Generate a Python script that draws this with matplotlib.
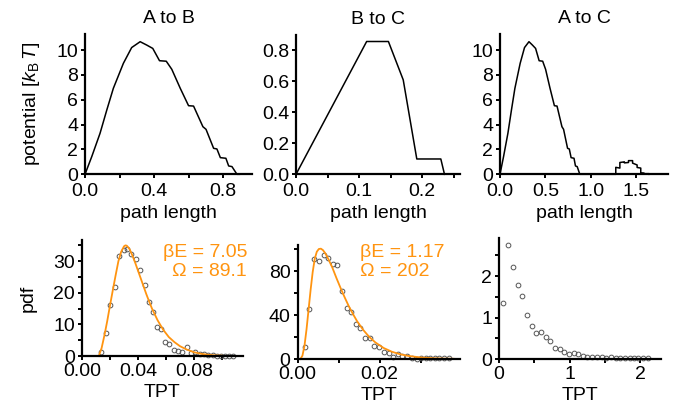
import numpy as np
import matplotlib
matplotlib.use("Agg")
import matplotlib.pyplot as plt
from matplotlib.ticker import FixedLocator, FormatStrFormatter

plt.rcParams['font.family'] = ['Liberation Sans', 'DejaVu Sans']
plt.rcParams['mathtext.fontset'] = 'custom'
plt.rcParams['mathtext.rm'] = 'Liberation Sans'
plt.rcParams['mathtext.it'] = 'Liberation Sans:italic'

#DATA
# potential profiles along path
ab_x = [0, 0.039, 0.087, 0.126, 0.164, 0.222, 0.27, 0.319, 0.357, 0.392, 0.431, 0.47,
        0.502, 0.551, 0.599, 0.628, 0.682, 0.70, 0.744, 0.763, 0.783, 0.815, 0.831, 0.85,
        0.879, 0.893]
ab_y = [0, 1.42, 3.3, 5.17, 6.92, 8.93, 10.2, 10.67, 10.4, 10.13, 9.14, 9.1,
        8.45, 6.92, 5.52, 5.49, 3.83, 3.62, 2.09, 2.04, 1.34, 1.29, 0.67, 0.62,
        0, 0]

bc_x = [0, 0.112, 0.1465, 0.170, 0.1915, 0.2296, 0.2354]
bc_y = [0, 0.858, 0.858, 0.61, 0.099, 0.099, 0]

ac2_x = [1.275, 1.275, 1.32, 1.32, 1.37, 1.37, 1.415, 1.415, 1.46, 1.46, 1.51,
         1.51, 1.55, 1.55, 1.585, 1.585, 1.64, 1.64]
ac2_y = [0, 0.56, 0.5, 0.95, 1.0, 0.92, 0.95, 1.1, 1.1, 0.9, 0.75,
         0.55, 0.5, 0.12, 0.1, 0.05, 0.05, 0]

# transition path time histograms
tab_x = [0.0138, 0.0174, 0.0202, 0.0233, 0.0262, 0.0298, 0.0324, 0.0352, 0.0383, 0.0417,
         0.0448, 0.0476, 0.0507, 0.0536, 0.0565, 0.0595, 0.0621, 0.0655, 0.0686, 0.0717,
         0.075, 0.078, 0.081, 0.0843, 0.0874, 0.090, 0.0933, 0.0962, 0.0993, 0.102,
         0.105, 0.108]
tab_y = [1.37, 7.4, 16.1, 21.9, 31.6, 33.5, 33.9, 32.3, 30.6, 27.2,
         22.5, 17.0, 13.8, 9.3, 8.7, 4.5, 3.7, 1.9, 1.6, 1.4,
         2.7, 1.0, 1.2, 0.5, 0.6, 0.4, 0.2, 0.15, 0.1, 0.05,
         0.05, 0.05]
fab_x = [0.012, 0.014, 0.016, 0.018, 0.020, 0.022, 0.024, 0.026, 0.028, 0.030, 0.031,
         0.032, 0.034, 0.036, 0.038, 0.040, 0.042, 0.044, 0.046, 0.048, 0.050, 0.054,
         0.058, 0.062, 0.066, 0.070, 0.075, 0.080, 0.085, 0.090, 0.095, 0.100]
fab_y = [0, 2.5, 6.5, 11, 16, 20.8, 25.5, 30, 33, 34.7, 35,
         34.9, 33.8, 31.8, 29.5, 27, 24.5, 22, 19.5, 17.2, 15, 11.3,
         8.3, 6.0, 4.4, 3.1, 2.0, 1.2, 0.7, 0.4, 0.2, 0.1]

tbc_x = [0.00175, 0.00288, 0.00394, 0.00516, 0.00638, 0.00744, 0.00858, 0.0097, 0.01085,
         0.012, 0.0131, 0.01427, 0.0153, 0.01646, 0.0176, 0.01874, 0.0199, 0.021, 0.0222,
         0.0233, 0.0244, 0.0255, 0.0266, 0.0278, 0.029, 0.030, 0.0312, 0.0323, 0.0335,
         0.0346, 0.0358, 0.0369]
tbc_y = [10.6, 45.5, 90.6, 89, 94.5, 92.1, 86.4, 85.5, 61.8,
         46.7, 42.4, 31.5, 27.9, 18.8, 19.4, 11.8, 11.2, 6.0, 5.2,
         2.1, 4.2, 3.0, 3.0, 0.6, 0.2, 1.0, 1.0, 0.8, 0.5,
         0.5, 0.5, 0.8]
fbc_x = [0.0007, 0.0012, 0.0017, 0.0022, 0.0027, 0.0032, 0.0037, 0.0042, 0.0047, 0.0052,
         0.0057, 0.0062, 0.0067, 0.0075, 0.0085, 0.0095, 0.0105, 0.0115, 0.0125, 0.0135,
         0.0145, 0.016, 0.0175, 0.019, 0.021, 0.023, 0.025, 0.027, 0.030, 0.033, 0.036, 0.038]
fbc_y = [0, 3, 12, 27, 45, 63, 79, 91, 97.5, 100,
         100.3, 99, 96.5, 91, 83, 73.5, 64.5, 56, 48, 41,
         34.5, 26.5, 20, 15, 10, 6.6, 4.3, 2.8, 1.4, 0.7, 0.3, 0.2]

tac_x = [0.061, 0.132, 0.198, 0.264, 0.33, 0.395, 0.461, 0.527, 0.593, 0.659, 0.725,
         0.791, 0.857, 0.923, 0.989, 1.055, 1.12, 1.186, 1.25, 1.318, 1.384, 1.45,
         1.516, 1.58, 1.65, 1.714, 1.78, 1.846, 1.91, 1.97, 2.04, 2.11]
tac_y = [1.345, 2.75, 2.23, 1.79, 1.51, 1.06, 0.80, 0.62, 0.64, 0.52, 0.43,
         0.26, 0.24, 0.18, 0.11, 0.15, 0.11, 0.08, 0.06, 0.05, 0.06, 0.04,
         0.03, 0.04, 0.03, 0.03, 0.02, 0.02, 0.02, 0.02, 0.02, 0.02]

titles = ["A to B", "B to C", "A to C"]
orange = "#FF9410"
FS = 14

#FIGURE
fig = plt.figure(figsize=(6.9, 4.11), dpi=100)


def ax_px(l, t, r, b):
    return fig.add_axes([l / 690, 1 - b / 411, (r - l) / 690, (b - t) / 411])


def style(ax, xlim, ylim, xmaj, xmin, ymaj, ymin, xfmt, yfmt, xpad=3):
    ax.set_xlim(xlim)
    ax.set_ylim(ylim)
    for s in ["top", "right"]:
        ax.spines[s].set_visible(False)
    for s in ["left", "bottom"]:
        ax.spines[s].set_linewidth(1.6)
    ax.xaxis.set_major_locator(FixedLocator(xmaj))
    ax.xaxis.set_minor_locator(FixedLocator(xmin))
    ax.yaxis.set_major_locator(FixedLocator(ymaj))
    ax.yaxis.set_minor_locator(FixedLocator(ymin))
    ax.xaxis.set_major_formatter(FormatStrFormatter(xfmt))
    ax.yaxis.set_major_formatter(FormatStrFormatter(yfmt))
    ax.tick_params(which="both", direction="out", length=3, width=1.4, labelsize=FS)
    ax.tick_params(axis="x", pad=xpad)
    ax.tick_params(axis="y", pad=2)
    ax.set_facecolor("none")


ax1 = ax_px(85, 34, 252, 174.3)
ax2 = ax_px(296, 35, 460, 174.3)
ax3 = ax_px(500, 34, 668, 174.3)
ax4 = ax_px(82, 240, 243, 356)
ax5 = ax_px(297.5, 244.6, 460, 359)
ax6 = ax_px(499, 238, 661, 359)

# top row
ax1.plot(ab_x, ab_y, "-k", lw=1.1, clip_on=False)
style(ax1, (0, 0.966), (0, 11.29), [0, 0.4, 0.8], [0.2, 0.6], [0, 2, 4, 6, 8, 10], [], "%.1f", "%d")
ax1.set_ylabel(r"potential [$k_\mathrm{B}\,T$]", fontsize=FS, labelpad=10)

ax2.plot(bc_x, bc_y, "-k", lw=1.1, clip_on=False)
style(ax2, (0, 0.26), (0, 0.90), [0, 0.1, 0.2], [0.05, 0.15, 0.25], [0, 0.2, 0.4, 0.6, 0.8], [], "%.1f", "%.1f")

ac_x = ab_x + ac2_x
ac_y = ab_y + ac2_y
ax3.plot(ac_x, ac_y, "-k", lw=1.1, clip_on=False)
style(ax3, (0, 1.85), (0, 11.29), [0, 0.5, 1.0, 1.5], [], [0, 2, 4, 6, 8, 10], [], "%.1f", "%d")

for ax, t in zip([ax1, ax2, ax3], titles):
    ax.set_title(t, fontsize=FS, pad=8)
    ax.set_xlabel("path length", fontsize=FS, labelpad=4)

# bottom row
mk = dict(ls="none", marker="o", ms=3.4, mfc="none", mec="#555555", mew=0.7, clip_on=False)

ax4.plot(tab_x, tab_y, **mk)
ax4.plot(fab_x, fab_y, "-", color=orange, lw=1.3, clip_on=False)
style(ax4, (0, 0.115), (0, 36.7), [0, 0.04, 0.08], [0.02, 0.06, 0.10], [0, 10, 20, 30], [5, 15, 25, 35], "%.2f", "%d", xpad=2)
ax4.set_ylabel("pdf", fontsize=FS, labelpad=12)

ax5.plot(tbc_x, tbc_y, **mk)
ax5.plot(fbc_x, fbc_y, "-", color=orange, lw=1.3, clip_on=False)
style(ax5, (0, 0.0396), (0, 104), [0, 0.02], [0.01, 0.03], [0, 40, 80], [20, 60, 100], "%.2f", "%d", xpad=2)

ax6.plot(tac_x, tac_y, **mk)
style(ax6, (0, 2.29), (0, 2.92), [0, 1, 2], [0.5, 1.5], [0, 1, 2], [0.5, 1.5, 2.5], "%d", "%d", xpad=2)

for ax in [ax4, ax5, ax6]:
    ax.set_xlabel("TPT", fontsize=FS, labelpad=3)

# fit parameters
fig.text(247 / 690, 1 - 252 / 411, "βE = 7.05", color=orange, fontsize=FS, ha="right", va="center")
fig.text(247 / 690, 1 - 271 / 411, "Ω = 89.1", color=orange, fontsize=FS, ha="right", va="center")
fig.text(360 / 690, 1 - 252 / 411, "βE = 1.17", color=orange, fontsize=FS, ha="left", va="center")
fig.text(360 / 690, 1 - 271 / 411, "Ω = 202", color=orange, fontsize=FS, ha="left", va="center")

plt.savefig("out.png", dpi=100)
